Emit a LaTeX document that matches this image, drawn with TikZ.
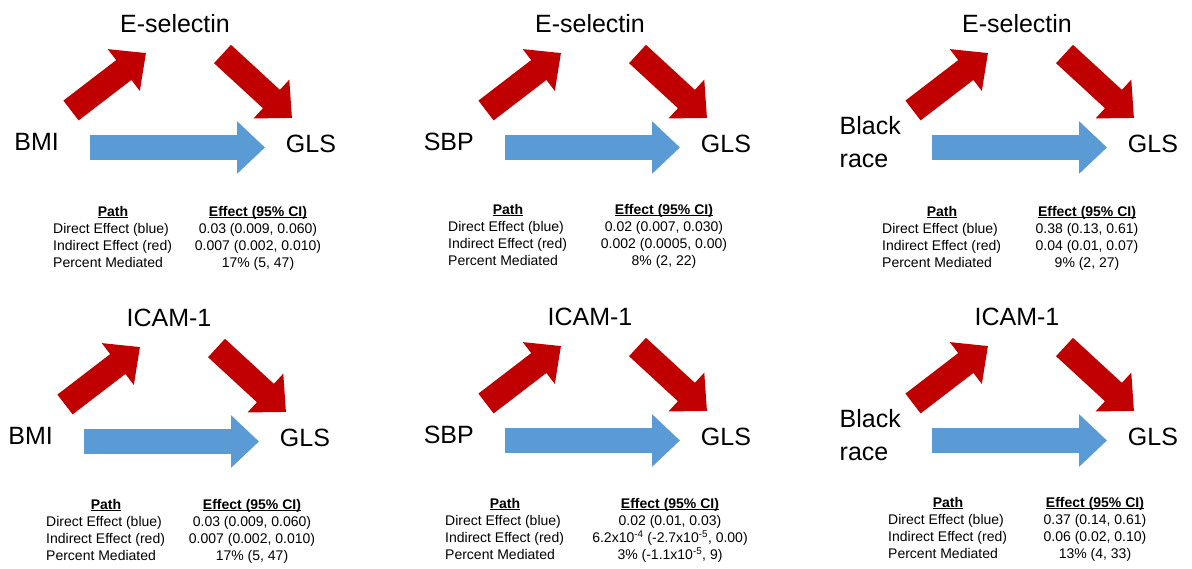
\documentclass[tikz,border=0pt]{standalone}
\usepackage{fontspec}
\setmainfont{Liberation Sans}
\usetikzlibrary{arrows.meta}
\definecolor{pathred}{HTML}{C00000}
\definecolor{pathblue}{HTML}{5B9BD5}

% Mediation triangle: id, shift, exposure, mediator
\newcommand{\medtriangle}[4]{%
\begin{scope}[shift={#2}]
    \node[bigtext, anchor=base] (#1-med) at (175,32) {#4};
    \node[bigtext, anchor=east, align=left] (#1-expo) at (59,142) {#3};
    \node[bigtext, anchor=base] (#1-gls) at (311,152) {GLS};
    \coordinate (#1-expoout) at (71,110.5);
    \coordinate (#1-medin) at (146,53);
    \coordinate (#1-medout) at (222.5,54);
    \coordinate (#1-glsin) at (292,118);
    \coordinate (#1-direct) at (90,147.5);
    \coordinate (#1-glsdirect) at (265,147.5);
    \draw[redarrow] (#1-expoout) -- (#1-medin);
    \draw[redarrow] (#1-medout) -- (#1-glsin);
    \draw[bluearrow] (#1-direct) -- (#1-glsdirect);
\end{scope}}

% Effect table: id, label x, value x, header baseline, direct, indirect, percent
\newcommand{\effecttable}[7]{%
    \node[headtext, anchor=base] (#1-path) at ({#2+60},#4) {\underline{\smash{Path}}};
    \node[headtext, anchor=base] (#1-effect) at (#3,#4) {\underline{\smash{Effect (95\% CI)}}};
    \node[smalltext, anchor=base west] (#1-dlab) at (#2,{#4+17.3}) {Direct Effect (blue)};
    \node[smalltext, anchor=base west] (#1-ilab) at (#2,{#4+34.6}) {Indirect Effect (red)};
    \node[smalltext, anchor=base west] (#1-plab) at (#2,{#4+51.9}) {Percent Mediated};
    \node[smalltext, anchor=base] (#1-dval) at (#3,{#4+17.3}) {#5};
    \node[smalltext, anchor=base] (#1-ival) at (#3,{#4+34.6}) {#6};
    \node[smalltext, anchor=base] (#1-pval) at (#3,{#4+51.9}) {#7};
}

\begin{document}
\begin{tikzpicture}[
    x=1pt, y=-1pt,
    bigtext/.style={inner sep=0pt, font=\fontsize{25}{33}\selectfont},
    smalltext/.style={inner sep=0pt, font=\fontsize{14}{17}\selectfont},
    headtext/.style={inner sep=0pt, font=\fontsize{14}{17}\selectfont\bfseries},
    redarrow/.style={pathred, line width=25pt, -{Triangle[width=51pt, length=28pt]}},
    bluearrow/.style={pathblue, line width=25pt, -{Triangle[width=51pt, length=28pt]}}
]

% 1. Canvas
\useasboundingbox (0,0) rectangle (1192,568);

% 2. Top row (E-selectin)
\medtriangle{tl}{(0,0)}{BMI}{E-selectin}
\medtriangle{tm}{(415,0)}{SBP}{E-selectin}
\medtriangle{tr}{(842,0)}{Black\\race}{E-selectin}

\effecttable{tl}{53}{258}{216}{0.03 (0.009, 0.060)}{0.007 (0.002, 0.010)}{17\% (5, 47)}
\effecttable{tm}{448}{664}{214}{0.02 (0.007, 0.030)}{0.002 (0.0005, 0.00)}{8\% (2, 22)}
\effecttable{tr}{882}{1087}{216}{0.38 (0.13, 0.61)}{0.04 (0.01, 0.07)}{9\% (2, 27)}

% 3. Bottom row (ICAM-1)
\medtriangle{bl}{(-6,294)}{BMI}{ICAM-1}
\medtriangle{bm}{(415,293)}{SBP}{ICAM-1}
\medtriangle{br}{(842,293)}{Black\\race}{ICAM-1}

\effecttable{bl}{46}{252}{509}{0.03 (0.009, 0.060)}{0.007 (0.002, 0.010)}{17\% (5, 47)}
\effecttable{bm}{445}{670}{508}{0.02 (0.01, 0.03)}{6.2x10\textsuperscript{-4} (-2.7x10\textsuperscript{-5}, 0.00)}{3\% (-1.1x10\textsuperscript{-5}, 9)}
\effecttable{br}{888}{1095}{507}{0.37 (0.14, 0.61)}{0.06 (0.02, 0.10)}{13\% (4, 33)}

\end{tikzpicture}
\end{document}
